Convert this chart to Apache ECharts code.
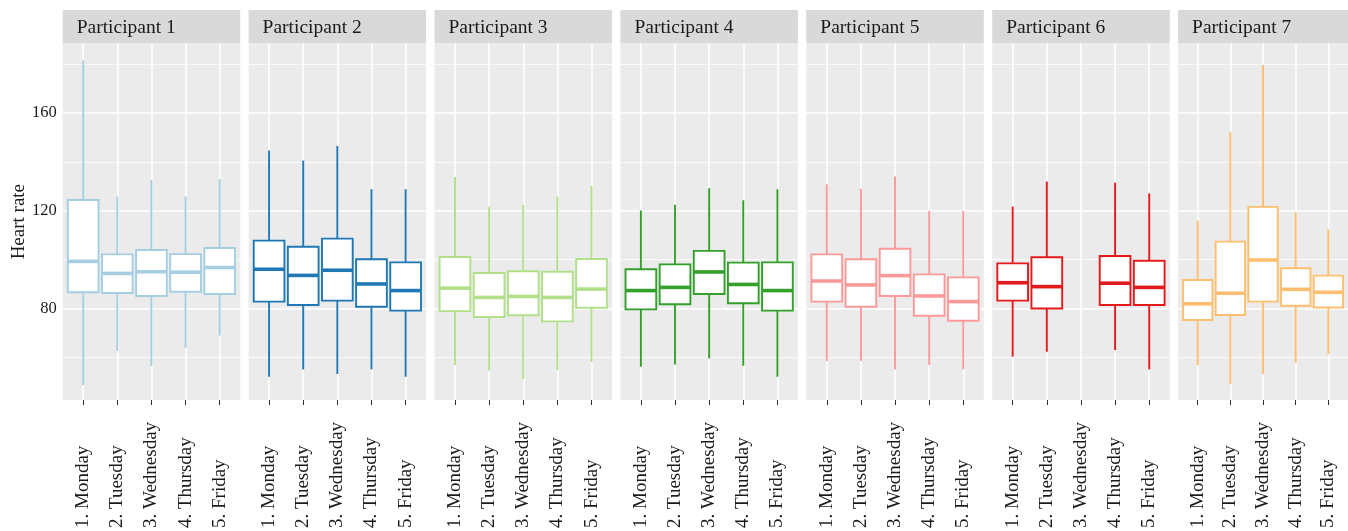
<!DOCTYPE html>
<html>
<head>
<meta charset="utf-8">
<script src="https://cdn.jsdelivr.net/npm/echarts@6/dist/echarts.min.js"></script>
<style>
  html, body { margin: 0; padding: 0; background: #ffffff; }
  #chart { width: 1348px; height: 531px; }
</style>
</head>
<body>
<div id="chart"></div>
<script>
// Weekday categories shown under every panel
const days = ['1. Monday', '2. Tuesday', '3. Wednesday', '4. Thursday', '5. Friday'];
const participants = ['Participant 1', 'Participant 2', 'Participant 3', 'Participant 4',
                      'Participant 5', 'Participant 6', 'Participant 7'];
const colors = ['#A6CEE3', '#1F78B4', '#B2DF8A', '#33A02C', '#FB9A99', '#E31A1C', '#FDBF6F'];

// Heart-rate tick values
const yMajorTicks = [80, 120, 160];
const yMinorTicks = [60, 100, 140, 180];

// Per participant, one row per weekday: [lower whisker, Q1, median, Q3, upper whisker]
// (null = no recording that day)
const p1 = [[48.8, 86.7, 99.3, 124.4, 181.4], [62.7, 86.4, 94.4, 102.2, 125.8], [56.6, 85.2, 95.1, 104.0, 132.6],
            [64.1, 86.9, 94.9, 102.3, 125.8], [69.0, 86.0, 96.8, 104.8, 132.9]];
const p2 = [[52.2, 82.9, 96.1, 107.8, 144.6], [55.2, 81.5, 93.6, 105.3, 140.5], [53.3, 83.3, 95.7, 108.6, 146.5],
            [55.2, 80.8, 90.1, 100.2, 128.8], [52.2, 79.2, 87.4, 98.9, 128.8]];
const p3 = [[57.0, 79.0, 88.4, 101.1, 133.8], [54.7, 76.6, 84.6, 94.6, 121.7], [51.3, 77.3, 85.0, 95.3, 122.4],
            [54.9, 74.8, 84.6, 95.1, 125.8], [58.3, 80.4, 88.0, 100.3, 130.1]];
const p4 = [[56.3, 79.7, 87.4, 96.1, 120.1], [57.2, 81.8, 88.7, 98.1, 122.5], [59.7, 86.0, 95.0, 103.6, 129.2],
            [56.7, 82.2, 89.9, 98.8, 124.3], [52.2, 79.2, 87.4, 98.9, 128.8]];
const p5 = [[58.7, 82.9, 91.3, 102.2, 130.8], [58.7, 80.8, 89.7, 100.2, 129.0], [55.2, 85.2, 93.5, 104.5, 134.0],
            [57.0, 77.1, 85.2, 94.0, 119.9], [55.2, 75.1, 82.9, 92.8, 119.9]];
const p6 = [[60.4, 83.3, 90.6, 98.5, 121.7], [62.4, 80.1, 89.0, 101.0, 131.9], null,
            [63.1, 81.5, 90.4, 101.5, 131.5], [55.2, 81.5, 88.7, 99.6, 127.1]];
const p7 = [[57.0, 75.4, 82.0, 91.7, 116.0], [49.1, 77.4, 86.3, 107.4, 152.1], [53.3, 82.9, 99.9, 121.6, 179.5],
            [57.9, 81.2, 87.9, 96.5, 119.4], [61.3, 80.5, 86.7, 93.5, 112.4]];
const stats = [p1, p2, p3, p4, p5, p6, p7];

// Panel geometry
const panelLeft0 = 62.7, panelStep = 185.9, panelWidth = 177.5;
const panelTop = 43.3, panelHeight = 356.7;
const stripTop = 10;
const yMin = 42.7, yMax = 188.4;
const serif = '"Liberation Serif", "DejaVu Serif", serif';

function renderBox(params, api) {
  const x = api.value(0);
  const lo = api.coord([x, api.value(1)]);
  const q1 = api.coord([x, api.value(2)]);
  const md = api.coord([x, api.value(3)]);
  const q3 = api.coord([x, api.value(4)]);
  const hi = api.coord([x, api.value(5)]);
  const w = api.size([0.9, 0])[0];
  const color = api.visual('color');
  const lw = 1.9;
  return {
    type: 'group',
    children: [
      { type: 'line', shape: { x1: lo[0], y1: lo[1], x2: q1[0], y2: q1[1] }, style: { stroke: color, lineWidth: lw } },
      { type: 'line', shape: { x1: q3[0], y1: q3[1], x2: hi[0], y2: hi[1] }, style: { stroke: color, lineWidth: lw } },
      { type: 'rect', shape: { x: q1[0] - w / 2, y: q3[1], width: w, height: q1[1] - q3[1] },
        style: { fill: '#ffffff', stroke: color, lineWidth: lw } },
      { type: 'line', shape: { x1: md[0] - w / 2, y1: md[1], x2: md[0] + w / 2, y2: md[1] },
        style: { stroke: color, lineWidth: 3.6 } }
    ]
  };
}

const grids = [], xAxes = [], yAxes = [], series = [], graphics = [];

participants.forEach((name, i) => {
  const left = panelLeft0 + i * panelStep;
  grids.push({
    left: left, top: panelTop, width: panelWidth, height: panelHeight,
    show: true, backgroundColor: '#EBEBEB', borderWidth: 0, containLabel: false
  });
  xAxes.push({
    type: 'value', gridIndex: i, position: 'bottom', min: 0.4, max: 5.6,
    axisLine: { show: false },
    axisTick: { show: true, customValues: [1, 2, 3, 4, 5], length: 5, lineStyle: { color: '#333333', width: 1 } },
    axisLabel: {
      customValues: [1, 2, 3, 4, 5],
      formatter: v => days[Math.round(v) - 1],
      rotate: 90, align: 'left', verticalAlign: 'middle', margin: 128,
      fontFamily: serif, fontSize: 19, color: '#1a1a1a'
    },
    splitLine: { show: true, lineStyle: { color: '#ffffff', width: 1.6 } }
  });
  // minor horizontal gridlines
  yAxes.push({
    type: 'value', gridIndex: i, position: 'left', offset: 0, min: yMin, max: yMax,
    axisLine: { show: false },
    axisTick: { show: false, customValues: yMinorTicks },
    axisLabel: { show: false },
    splitLine: { show: true, lineStyle: { color: '#ffffff', width: 0.8 } }
  });
  // major horizontal gridlines (labels on the first panel only)
  yAxes.push({
    type: 'value', gridIndex: i, position: 'left', offset: 0, min: yMin, max: yMax,
    axisLine: { show: false },
    axisTick: { show: false, customValues: yMajorTicks },
    axisLabel: {
      show: i === 0, customValues: yMajorTicks, margin: 6,
      fontFamily: serif, fontSize: 16.5, color: '#1a1a1a'
    },
    splitLine: { show: true, lineStyle: { color: '#ffffff', width: 1.6 } }
  });

  const rows = [];
  stats[i].forEach((s, d) => { if (s) rows.push([d + 1].concat(s)); });
  series.push({
    type: 'custom', name: name, xAxisIndex: i, yAxisIndex: 2 * i + 1,
    renderItem: renderBox, clip: false,
    itemStyle: { color: colors[i] },
    encode: { x: 0, y: [1, 2, 3, 4, 5] },
    data: rows
  });

  // facet strip
  graphics.push({
    type: 'rect', left: left, top: stripTop,
    shape: { width: panelWidth, height: panelTop - stripTop },
    style: { fill: '#D9D9D9' }, silent: true
  });
  graphics.push({
    type: 'text', x: left + 14, y: (stripTop + panelTop) / 2 + 1,
    style: { text: name, fill: '#1a1a1a', font: '19.5px ' + serif, textAlign: 'left', textVerticalAlign: 'middle' },
    silent: true
  });
});

// y-axis title
graphics.push({
  type: 'text', x: 19.5, y: panelTop + panelHeight / 2, rotation: Math.PI / 2,
  style: { text: 'Heart rate', fill: '#1a1a1a', font: '19px ' + serif, textAlign: 'center', textVerticalAlign: 'middle' },
  silent: true
});

const chart = echarts.init(document.getElementById('chart'), null, { renderer: 'canvas' });
chart.setOption({
  animation: false,
  backgroundColor: '#ffffff',
  grid: grids,
  xAxis: xAxes,
  yAxis: yAxes,
  series: series,
  graphic: graphics
});
</script>
</body>
</html>
